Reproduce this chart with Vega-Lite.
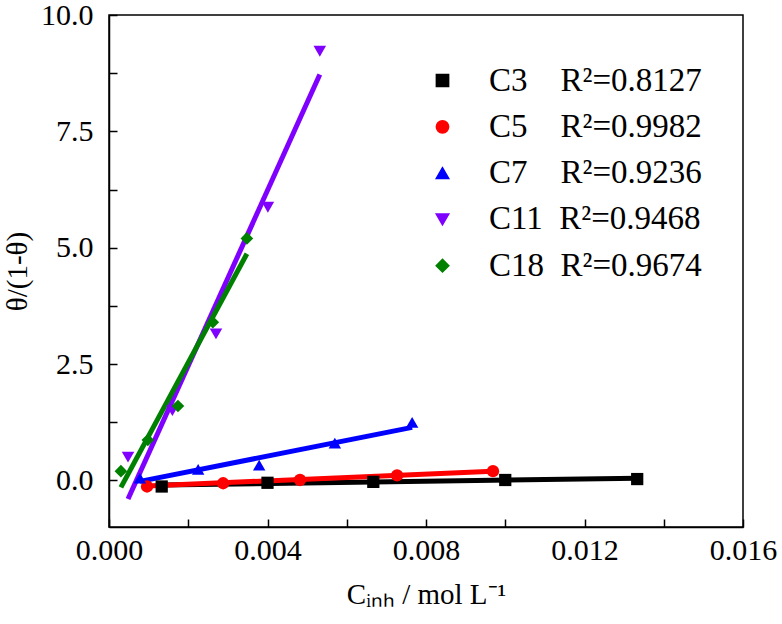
{
  "$schema": "https://vega.github.io/schema/vega-lite/v6.json",
  "width": 634,
  "height": 512,
  "autosize": {"type": "none"},
  "padding": {"left": 109, "top": 15, "right": 39, "bottom": 97},
  "background": "white",
  "config": {
    "view": {"stroke": "black", "strokeWidth": 1.5},
    "font": "Liberation Serif",
    "axis": {
      "grid": false,
      "domainColor": "black",
      "domainWidth": 1.5,
      "tickColor": "black",
      "tickWidth": 1.5,
      "tickSize": -8,
      "labelColor": "black",
      "labelFont": "Liberation Serif",
      "labelFontSize": 30,
      "labelFlush": false,
      "titleFont": "Liberation Serif",
      "titleFontSize": 29,
      "titleFontWeight": "normal",
      "titleColor": "black",
      "labelOverlap": false
    },
    "legend": {
      "labelFont": "Liberation Serif",
      "labelColor": "black",
      "labelFontSize": 33,
      "symbolSize": 140,
      "rowPadding": 12.3,
      "labelOffset": 30,
      "labelLimit": 400
    }
  },
  "datasets": {
    "points": [
      {"series": "C3", "c": 0.00133, "v": -0.13},
      {"series": "C3", "c": 0.004, "v": -0.05},
      {"series": "C3", "c": 0.00667, "v": -0.03},
      {"series": "C3", "c": 0.01, "v": 0.01},
      {"series": "C3", "c": 0.01333, "v": 0.03},
      {"series": "C5", "c": 0.00096, "v": -0.13},
      {"series": "C5", "c": 0.00288, "v": -0.06},
      {"series": "C5", "c": 0.00482, "v": 0.01},
      {"series": "C5", "c": 0.00727, "v": 0.11},
      {"series": "C5", "c": 0.00969, "v": 0.2},
      {"series": "C7", "c": 0.00078, "v": 0.05},
      {"series": "C7", "c": 0.00225, "v": 0.24},
      {"series": "C7", "c": 0.00379, "v": 0.33},
      {"series": "C7", "c": 0.0057, "v": 0.8},
      {"series": "C7", "c": 0.00765, "v": 1.25},
      {"series": "C11", "c": 0.00048, "v": 0.5},
      {"series": "C11", "c": 0.0016, "v": 1.5},
      {"series": "C11", "c": 0.0027, "v": 3.15},
      {"series": "C11", "c": 0.00401, "v": 5.87},
      {"series": "C11", "c": 0.00532, "v": 9.22},
      {"series": "C18", "c": 0.0003, "v": 0.2},
      {"series": "C18", "c": 0.00098, "v": 0.87},
      {"series": "C18", "c": 0.00174, "v": 1.6},
      {"series": "C18", "c": 0.00262, "v": 3.4},
      {"series": "C18", "c": 0.00348, "v": 5.2}
    ],
    "fits": [
      {"series": "C3", "c": 0.00133, "v": -0.10},
      {"series": "C3", "c": 0.01333, "v": 0.05},
      {"series": "C5", "c": 0.00096, "v": -0.12},
      {"series": "C5", "c": 0.00969, "v": 0.2},
      {"series": "C7", "c": 0.00078, "v": -0.02},
      {"series": "C7", "c": 0.00765, "v": 1.14},
      {"series": "C11", "c": 0.00048, "v": -0.4},
      {"series": "C11", "c": 0.00532, "v": 8.72},
      {"series": "C18", "c": 0.0003, "v": -0.15},
      {"series": "C18", "c": 0.00348, "v": 4.87}
    ]
  },
  "encoding": {
    "x": {
      "field": "c",
      "type": "quantitative",
      "scale": {"domain": [0, 0.016], "nice": false, "zero": false},
      "axis": {
        "values": [0, 0.002, 0.004, 0.006, 0.008, 0.01, 0.012, 0.014, 0.016],
        "labelExpr": "round(datum.value * 1000) % 4 === 0 ? format(datum.value, '.3f') : ''",
        "labelPadding": 16,
        "title": "Cᵢₙₕ / mol L⁻¹",
        "titlePadding": 15
      }
    },
    "y": {
      "field": "v",
      "type": "quantitative",
      "scale": {"domain": [-1, 10], "nice": false, "zero": false},
      "axis": {
        "values": [0, 1.25, 2.5, 3.75, 5, 6.25, 7.5, 8.75, 10],
        "labelExpr": "round(datum.value * 100) % 250 === 0 ? format(datum.value, '.1f') : ''",
        "labelPadding": 24,
        "title": "θ/(1-θ)",
        "titlePadding": 8
      }
    },
    "color": {
      "field": "series",
      "type": "nominal",
      "scale": {"domain": ["C3", "C5", "C7", "C11", "C18"], "range": ["#000000", "#ff0000", "#0000ff", "#7f00ff", "#008000"]},
      "legend": {
        "orient": "none",
        "legendX": 317,
        "legendY": 49,
        "title": null,
        "labelExpr": "datum.label == 'C3' ? 'C3\u2002\u2002R²=0.8127' : datum.label == 'C5' ? 'C5\u2002\u2002R²=0.9982' : datum.label == 'C7' ? 'C7\u2002\u2002R²=0.9236' : datum.label == 'C11' ? 'C11\u2002R²=0.9468' : 'C18\u2002R²=0.9674'"
      }
    }
  },
  "layer": [
    {
      "data": {"name": "fits"},
      "mark": {"type": "line", "strokeWidth": 5, "clip": true}
    },
    {
      "data": {"name": "points"},
      "mark": {"type": "point", "filled": true, "opacity": 1},
      "encoding": {
        "shape": {
          "field": "series",
          "type": "nominal",
          "scale": {"domain": ["C3", "C5", "C7", "C11", "C18"], "range": ["square", "circle", "triangle-up", "triangle-down", "diamond"]},
          "legend": {
            "orient": "none",
            "legendX": 317,
            "legendY": 49,
            "title": null,
            "labelExpr": "datum.label == 'C3' ? 'C3\u2002\u2002R²=0.8127' : datum.label == 'C5' ? 'C5\u2002\u2002R²=0.9982' : datum.label == 'C7' ? 'C7\u2002\u2002R²=0.9236' : datum.label == 'C11' ? 'C11\u2002R²=0.9468' : 'C18\u2002R²=0.9674'"
          }
        },
        "size": {
          "field": "series",
          "type": "nominal",
          "scale": {"domain": ["C3", "C5", "C7", "C11", "C18"], "range": [150, 160, 260, 260, 190]},
          "legend": null
        }
      }
    }
  ]
}
